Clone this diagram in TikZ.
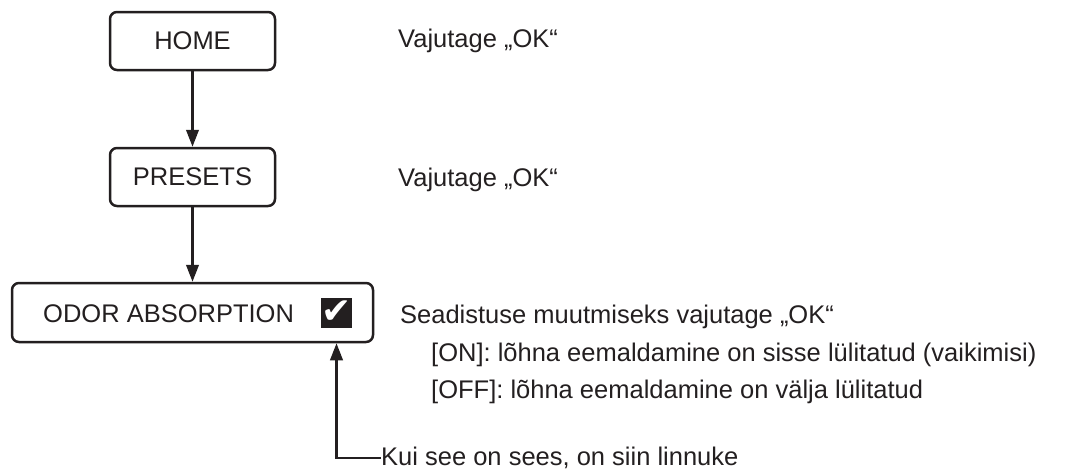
\documentclass[tikz,border=0pt]{standalone}
\usepackage{fontspec}
\setmainfont{Liberation Sans}
\newfontfamily\symfont{DejaVu Sans}
\usetikzlibrary{arrows.meta}
\definecolor{ink}{HTML}{231F20}
\begin{document}
\begin{tikzpicture}[x=1pt,y=-1pt,
  every node/.style={font=\fontsize{25.5}{30}\selectfont, text=ink},
  menubox/.style={draw=ink, line width=2.5pt, rounded corners=7pt, inner sep=0pt},
  txt/.style={anchor=base west, inner sep=0pt},
  arr/.style={draw=ink, line width=2.5pt, -{Triangle[length=17pt,width=12.5pt]}}]
\useasboundingbox (0,0) rectangle (1070,472);
\node[menubox, minimum width=165pt, minimum height=58pt] (home) at (192.5,41) {HOME};
\node[menubox, minimum width=165pt, minimum height=58pt] (presets) at (192.5,177) {PRESETS};
\node[menubox, minimum width=361pt, minimum height=59pt] (odor) at (192.5,312.5) {};
\node[txt] (odortxt) at (43,322) {ODOR ABSORPTION};
\node[fill=ink, minimum width=31pt, minimum height=30pt, inner sep=0pt] (check) at (336.5,313) {};
\node[inner sep=0pt, text=white, font=\symfont\fontsize{36}{40}\selectfont] (checkmark) at ([xshift=0.5pt,yshift=0.5pt]check.center) {✔};
\draw[arr] (home) -- (presets);
\draw[arr] (presets) -- (odor);
\node[txt] (t1) at (398,47) {Vajutage „OK“};
\node[txt] (t2) at (398,186) {Vajutage „OK“};
\node[txt] (t3) at (400,323) {Seadistuse muutmiseks vajutage „OK“};
\node[txt] (t4) at (431,361) {[ON]: lõhna eemaldamine on sisse lülitatud (vaikimisi)};
\node[txt] (t5) at (431,398) {[OFF]: lõhna eemaldamine on välja lülitatud};
\node[anchor=west, inner sep=0pt] (kui) at (381,458) {Kui see on sees, on siin linnuke};
\draw[arr] (kui.west) -| (check |- odor.south);
\end{tikzpicture}
\end{document}
